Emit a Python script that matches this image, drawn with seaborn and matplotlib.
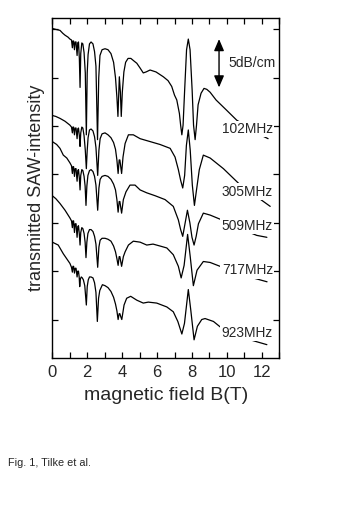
import matplotlib
matplotlib.use("Agg")
import matplotlib.pyplot as plt
from matplotlib.ticker import MultipleLocator
import pandas as pd
import seaborn as sns

# Transmitted SAW intensity (dB/cm, traces offset) versus magnetic field B (T)
b_102 = [0, 0.2, 0.44, 0.6, 0.73, 0.9, 1.01, 1.1, 1.15, 1.18, 1.22, 1.27, 1.31, 1.36, 1.42, 1.46,
         1.5, 1.55, 1.59, 1.63, 1.69, 1.75, 1.82, 1.89, 1.95, 2.0, 2.05, 2.13, 2.22, 2.33, 2.42, 2.5,
         2.59, 2.66, 2.73, 2.85, 3.02, 3.19, 3.36, 3.51, 3.62, 3.7, 3.76, 3.84, 3.9, 3.95, 4.01, 4.1,
         4.2, 4.34, 4.5, 4.7, 4.84, 5.03, 5.21, 5.37, 5.6, 5.94, 6.36, 6.63, 6.84, 7.0, 7.13, 7.28,
         7.35, 7.42, 7.49, 7.58, 7.69, 7.79, 7.89, 8.01, 8.09, 8.18, 8.26, 8.35, 8.52, 8.69, 8.85,
         9.04, 9.38, 9.95, 10.57, 11.33, 12.02, 12.36]
s_102 = [30.1, 30.0, 29.9, 29.6, 29.4, 29.2, 29.0, 28.9, 28.1, 28.8, 28.8, 27.9, 28.7, 28.7, 27.3, 28.6,
         28.7, 27.0, 24.0, 27.5, 28.6, 28.5, 27.6, 25.5, 19.1, 25.5, 27.4, 28.5, 28.7, 28.5, 27.7, 26.2,
         18.6, 25.0, 27.3, 27.9, 28.0, 27.9, 27.5, 26.6, 25.0, 23.0, 21.0, 25.1, 23.5, 21.0, 23.5, 25.6,
         26.6, 27.0, 27.0, 26.7, 26.5, 26.0, 25.5, 25.6, 25.8, 25.6, 25.1, 24.7, 24.1, 23.2, 22.7, 21.3,
         20.1, 19.1, 20.1, 23.7, 27.9, 29.0, 27.9, 23.7, 20.1, 18.6, 20.1, 22.2, 23.4, 23.9, 23.8,
         23.5, 22.7, 21.7, 20.6, 19.8, 19.0, 18.7]

b_305 = [0, 0.2, 0.44, 0.73, 1.01, 1.1, 1.15, 1.18, 1.22, 1.27, 1.31, 1.36, 1.42, 1.46, 1.5, 1.55,
         1.59, 1.63, 1.69, 1.75, 1.82, 1.89, 1.95, 2.0, 2.05, 2.13, 2.22, 2.33, 2.42, 2.5, 2.6, 2.67,
         2.74, 2.85, 3.02, 3.19, 3.36, 3.51, 3.62, 3.7, 3.77, 3.83, 3.87, 3.92, 3.97, 4.05, 4.17, 4.36,
         4.64, 5.03, 5.6, 6.17, 6.75, 7.03, 7.22, 7.35, 7.47, 7.58, 7.68, 7.79, 7.9, 8.02, 8.14, 8.26,
         8.42, 8.65, 9.04, 9.8, 10.66, 11.71, 12.48]
s_305 = [21.1, 21.0, 20.8, 20.5, 20.1, 19.9, 19.3, 19.9, 19.9, 19.1, 19.8, 19.8, 18.7, 19.7, 19.8, 19.0,
         17.9, 19.3, 19.9, 19.8, 19.0, 17.5, 15.6, 17.5, 18.8, 19.6, 19.7, 19.5, 18.9, 17.8, 14.9, 17.5,
         18.7, 19.2, 19.3, 19.1, 18.8, 18.3, 17.6, 16.5, 15.1, 16.5, 16.5, 15.8, 15.1, 16.8, 18.2, 19.1,
         19.1, 18.7, 18.4, 18.1, 17.7, 16.8, 15.5, 14.4, 13.6, 14.9, 18.0, 19.6, 17.5, 13.9, 11.8, 13.4,
         15.5, 17.0, 16.7, 15.6, 14.1, 12.7, 11.7]

b_509 = [0, 0.25, 0.44, 0.63, 0.83, 1.01, 1.1, 1.15, 1.18, 1.22, 1.27, 1.31, 1.36, 1.42, 1.46, 1.5,
         1.55, 1.59, 1.63, 1.69, 1.75, 1.82, 1.88, 1.93, 1.98, 2.04, 2.13, 2.22, 2.33, 2.42, 2.5, 2.6,
         2.67, 2.74, 2.85, 3.02, 3.19, 3.36, 3.51, 3.62, 3.7, 3.77, 3.83, 3.87, 3.92, 3.97, 4.07, 4.22,
         4.45, 4.74, 5.03, 5.41, 5.89, 6.46, 6.93, 7.22, 7.35, 7.47, 7.6, 7.74, 7.88, 8.0, 8.12, 8.24,
         8.37, 8.65, 9.04, 9.71, 10.76, 11.71, 12.29]
s_509 = [18.4, 18.1, 17.7, 17.0, 16.7, 16.2, 15.9, 15.1, 15.8, 15.8, 14.8, 15.6, 15.6, 14.3, 15.4, 15.5,
         14.6, 13.4, 14.9, 15.5, 15.4, 14.8, 13.8, 11.8, 13.8, 14.9, 15.4, 15.5, 15.3, 14.8, 13.9, 11.3,
         13.6, 14.5, 14.8, 14.9, 14.8, 14.5, 14.0, 13.4, 12.4, 11.1, 12.2, 12.2, 11.6, 11.0, 12.4, 13.2,
         13.9, 13.9, 13.4, 13.1, 12.8, 12.4, 11.7, 10.3, 9.3, 8.6, 9.9, 11.3, 10.0, 8.5, 7.7, 8.6,
         9.9, 11.0, 10.8, 10.3, 9.4, 8.7, 8.5]

b_717 = [0, 0.2, 0.44, 0.73, 1.01, 1.1, 1.15, 1.18, 1.22, 1.27, 1.31, 1.36, 1.42, 1.46, 1.5, 1.55,
         1.59, 1.63, 1.69, 1.75, 1.82, 1.88, 1.93, 1.98, 2.04, 2.13, 2.22, 2.33, 2.42, 2.5, 2.6, 2.67,
         2.74, 2.85, 3.02, 3.19, 3.36, 3.51, 3.62, 3.7, 3.77, 3.83, 3.87, 3.92, 3.97, 4.07, 4.17, 4.36,
         4.64, 5.03, 5.41, 5.77, 6.17, 6.56, 6.93, 7.22, 7.38, 7.55, 7.75, 7.9, 8.08, 8.29, 8.65, 9.04,
         9.61, 10.76, 11.5, 12.3]
s_717 = [12.8, 12.5, 12.0, 11.3, 10.5, 10.2, 9.5, 10.2, 10.2, 9.0, 9.9, 9.9, 8.5, 9.6, 9.7, 8.8,
         7.7, 9.0, 9.5, 9.4, 8.9, 8.0, 6.4, 8.0, 8.9, 9.3, 9.3, 9.1, 8.6, 7.8, 5.4, 7.5,
         8.2, 8.4, 8.4, 8.3, 8.1, 7.6, 7.0, 6.3, 5.6, 6.5, 6.5, 6.0, 5.5, 6.5, 7.0, 7.7,
         8.1, 8.0, 7.7, 7.8, 7.6, 7.4, 6.7, 5.5, 4.3, 5.6, 8.8, 6.5, 3.5, 5.1, 6.0, 5.9,
         5.5, 4.9, 4.3, 3.9]

b_923 = [0, 0.34, 0.63, 1.01, 1.1, 1.15, 1.18, 1.22, 1.27, 1.31, 1.36, 1.42, 1.46, 1.5, 1.54, 1.57,
         1.61, 1.66, 1.72, 1.78, 1.86, 1.95, 2.0, 2.06, 2.13, 2.22, 2.33, 2.42, 2.5, 2.58, 2.65, 2.72,
         2.87, 3.02, 3.19, 3.36, 3.51, 3.62, 3.7, 3.77, 3.83, 3.87, 3.92, 3.98, 4.05, 4.11, 4.26, 4.49,
         4.84, 5.21, 5.5, 5.98, 6.56, 6.93, 7.19, 7.42, 7.57, 7.79, 7.93, 8.12, 8.31, 8.56, 8.75, 9.23,
         9.71, 10.76, 11.33, 12.29]
s_923 = [8.0, 7.7, 6.8, 5.8, 5.4, 4.9, 5.5, 5.5, 4.8, 5.3, 5.3, 4.4, 5.0, 5.0, 4.4, 3.4,
         4.2, 4.4, 4.3, 4.1, 3.5, 1.5, 3.4, 4.1, 4.4, 4.4, 4.3, 3.8, 2.8, -0.2, 2.2, 3.0,
         3.6, 3.5, 3.3, 2.9, 2.3, 1.6, 0.9, 0.0, 0.6, 0.6, 0.3, 0.0, 0.8, 1.5, 2.2, 2.4,
         2.0, 1.7, 1.8, 1.7, 1.3, 0.8, -0.2, -1.5, -0.4, 3.1, 1.0, -2.1, -0.7, 0.0, 0.1, -0.2,
         -0.9, -1.8, -2.1, -2.6]

freq_labels = ["102MHz", "305MHz", "509MHz", "717MHz", "923MHz"]
label_b = 11.17
label_s = [19.7, 13.2, 9.7, 5.1, -1.4]

scale_bar = 5.0          # dB/cm
scale_bar_b = 9.55
scale_bar_top = 29.0

traces = [(b_102, s_102), (b_305, s_305), (b_509, s_509), (b_717, s_717), (b_923, s_923)]

sns.set_style("ticks")
plt.rcParams["font.family"] = ["Liberation Sans", "DejaVu Sans"]

fig = plt.figure(figsize=(3.42, 5.11), dpi=100)
ax = fig.add_axes([0.1529, 0.2994, 0.6637, 0.6654])

for (bb, ss), name in zip(traces, freq_labels):
    df = pd.DataFrame({"B": bb, "S": ss})
    sns.lineplot(data=df, x="B", y="S", ax=ax, color="black", linewidth=0.9,
                 estimator=None, sort=False, zorder=2)

for name, yy in zip(freq_labels, label_s):
    ax.text(label_b, yy, name, ha="center", va="center", fontsize=9.9, zorder=4,
            bbox=dict(facecolor="white", edgecolor="none", pad=1.0))

ax.annotate("", xy=(scale_bar_b, scale_bar_top), xytext=(scale_bar_b, scale_bar_top - scale_bar),
            arrowprops=dict(arrowstyle="<|-|>,head_length=0.7,head_width=0.3",
                            color="black", lw=1.0, shrinkA=0, shrinkB=0), zorder=5)
ax.text(10.07, scale_bar_top - scale_bar / 2, "5dB/cm", ha="left", va="center", fontsize=10)

ax.set_xlim(0, 13)
ax.set_ylim(-3.98, 31.18)
ax.xaxis.set_major_locator(MultipleLocator(2))
ax.xaxis.set_minor_locator(MultipleLocator(1))
ax.yaxis.set_major_locator(MultipleLocator(5))
ax.set_yticklabels([])
ax.tick_params(axis="both", which="both", direction="in", top=True, right=True,
               length=4.3, width=0.9, color="black")
ax.tick_params(axis="x", which="major", labelsize=12, pad=5)
for sp in ax.spines.values():
    sp.set_linewidth(1.0)
    sp.set_color("black")

ax.set_xlabel("magnetic field B(T)", fontsize=14, labelpad=5)
ax.set_ylabel("transmitted SAW-intensity", fontsize=13, labelpad=2)

fig.text(8 / 342, 1 - 466 / 511, "Fig. 1, Tilke et al.", fontsize=7.8, va="baseline", ha="left")

fig.savefig("out.png", dpi=100, facecolor="white")
